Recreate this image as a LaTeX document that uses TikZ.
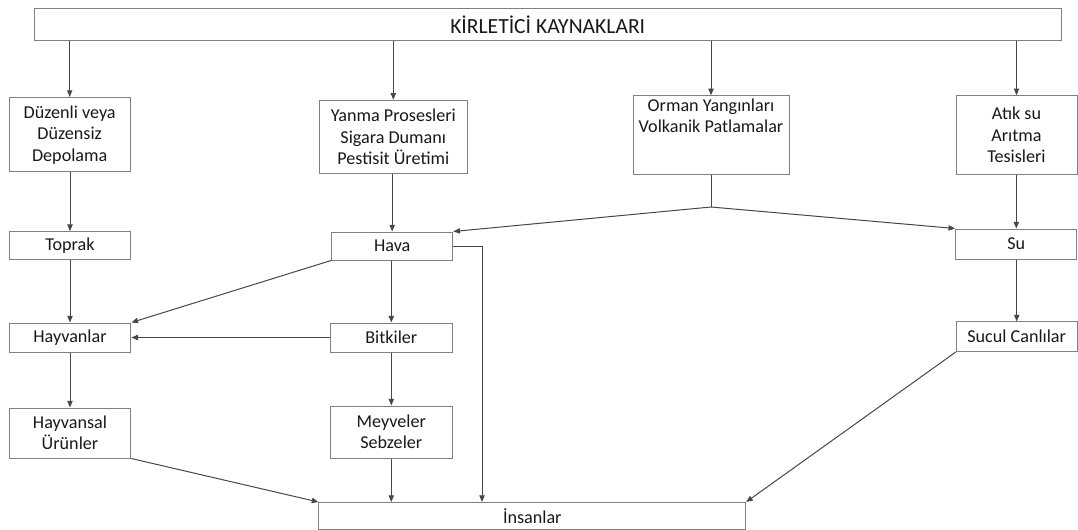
\documentclass[tikz,border=0pt]{standalone}
\usepackage{fontspec}
\setmainfont{Carlito}
\usetikzlibrary{arrows.meta,calc}
\begin{document}
\begin{tikzpicture}[x=0.75pt,y=-0.75pt,
  box/.style={draw=black!50,line width=0.75pt,fill=white,inner sep=0pt,align=center,
    text=black!90,font=\fontsize{13.6}{16.1}\selectfont},
  conn/.style={draw=black!72,line width=0.75pt,-{Triangle[length=5pt,width=4pt]}},
  plain/.style={draw=black!72,line width=0.75pt}]
\useasboundingbox (0,0) rectangle (1078,529);
% nodes
\node[box,minimum width=1026.6*0.75pt,minimum height=31.7*0.75pt,font=\fontsize{16.2}{18}\selectfont] (top) at (547.7,24.5) {KİRLETİCİ KAYNAKLARI};
\node[box,minimum width=120.7*0.75pt,minimum height=74.5*0.75pt] (d1) at (69.7,134.7) {Düzenli veya\\Düzensiz\\Depolama};
\node[box,minimum width=147.4*0.75pt,minimum height=73.5*0.75pt] (d2) at (393.3,137) {Yanma Prosesleri\\Sigara Dumanı\\Pestisit Üretimi};
\node[box,minimum width=156*0.75pt,minimum height=78.3*0.75pt] (d3) at (711,134.9) {};
\node[box,draw=none,fill=none,anchor=north] (d3t) at ($(d3.north)+(0,3)$) {Orman Yangınları\\Volkanik Patlamalar};
\node[box,minimum width=121*0.75pt,minimum height=78.3*0.75pt] (d4) at (1016.5,134.9) {Atık su\\Arıtma\\Tesisleri};
\node[box,minimum width=121.7*0.75pt,minimum height=28.3*0.75pt] (toprak) at (70,245.8) {Toprak};
\node[box,minimum width=121.2*0.75pt,minimum height=28*0.75pt] (hava) at (392.2,246) {Hava};
\node[box,minimum width=121.3*0.75pt,minimum height=30*0.75pt] (su) at (1016.3,244) {Su};
\node[box,minimum width=121.7*0.75pt,minimum height=29*0.75pt] (hayvanlar) at (70,337.5) {Hayvanlar};
\node[box,minimum width=121.4*0.75pt,minimum height=29*0.75pt] (bitkiler) at (391.3,337.5) {Bitkiler};
\node[box,minimum width=120.6*0.75pt,minimum height=29.5*0.75pt] (sucul) at (1016.7,336.7) {Sucul Canlılar};
\node[box,minimum width=121.7*0.75pt,minimum height=50*0.75pt] (hayvansal) at (70,433) {Hayvansal\\Ürünler};
\node[box,minimum width=121.4*0.75pt,minimum height=52*0.75pt] (meyveler) at (391.3,432) {Meyveler\\Sebzeler};
\node[box,minimum width=426.7*0.75pt,minimum height=27*0.75pt] (insanlar) at (532.3,516) {İnsanlar};
\coordinate (J) at (711,207);
\coordinate (hv) at (482,246.5);
% connectors
\draw[conn] (top.south -| d1.north) -- (d1.north);
\draw[conn] (top.south -| d2.north) -- (d2.north);
\draw[conn] (top.south -| d3.north) -- (d3.north);
\draw[conn] (top.south -| d4.north) -- (d4.north);
\draw[conn] (d1.south -| toprak.north) -- (toprak.north);
\draw[conn] (d2.south -| hava.north) -- (hava.north);
\draw[plain] (d3.south) -- (J);
\draw[conn] (J) -- (hava.north east);
\draw[conn] (J) -- (su.north west);
\draw[conn] (d4.south -| su.north) -- (su.north);
\draw[conn] (toprak) -- (hayvanlar);
\draw[conn] (hava.south west) -- (hayvanlar.north east);
\draw[conn] (hava.south -| bitkiler.north) -- (bitkiler.north);
\draw[conn] (bitkiler.west) -- (hayvanlar.east);
\draw[conn] (hava.east |- hv) -- (hv) -- (hv |- insanlar.north);
\draw[conn] (su.south -| sucul.north) -- (sucul.north);
\draw[conn] (hayvanlar) -- (hayvansal);
\draw[conn] (bitkiler.south -| meyveler.north) -- (meyveler.north);
\draw[conn] (hayvansal.south east) -- (insanlar.north west);
\draw[conn] (meyveler.south) -- (meyveler.south |- insanlar.north);
\draw[conn] (sucul.south west) -- (insanlar.north east);
\end{tikzpicture}
\end{document}
